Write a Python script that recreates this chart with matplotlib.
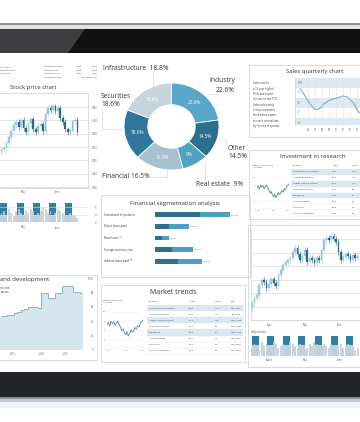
import math
import matplotlib.pyplot as plt
from matplotlib.patches import Rectangle, Polygon

W, H = 360, 422

# ---------------- data ----------------
stock_close = [3960, 3990, 4080, 4180, 4300, 4420, 4470, 4380, 4500, 4350, 4290, 4450,
               4520, 4330, 4280, 4400, 4430, 4300, 4620, 4740, 4700, 4760, 4680, 4730,
               4550, 4470, 4330, 4290, 4300, 4480, 4500, 4290]
stock_open0 = 3900
stock_vol = [5, 6, 4, 7, 5, 3, 6, 7, 5, 4, 6, 5, 7, 6, 4, 5, 6, 8, 7, 5, 6, 4, 5, 7,
             6, 5, 4, 3, 5, 4, 3, 2]
stock_weeks = [0.8, 7.7, 14.3, 20.8, 27.4]
stock_ticks = [4750, 4500, 4250, 4000, 3750, 3500, 3250]
stock_months = ['May', 'June']
stock_month_pos = [8.8, 22.6]
vol_ticks = [8, 4, 0]

intro_lines = ['on 2.63%', 'close for each', 'ast three']
pe_labels = ['Trading P/E ratio', 'P/E estimate', 'Dividend yield', 'Current division']
pe_a = ['12.06', '13.98', '3.46', '']
pe_b = ['76.52', '12.28', '2.86', '0.1123191125']

donut_labels = ['Industry', 'Other', 'Real estate', 'Financial', 'Securities', 'Infrastructure']
donut_values = [22.6, 14.5, 9, 16.5, 18.6, 18.8]
donut_colors = ['#5aa6c6', '#2b6f8f', '#52a0c2', '#a7c1cf', '#2f769b', '#c5d4dd']

seg_labels = ['Investment in products', 'Direct taxes paid', 'Bank loans *',
              'Foreign currency rate', 'Indirect taxes paid **']
seg_dark = [237200, 73800, 36900, 89600, 121200]
seg_light = [158100, 105400, 36900, 110700, 126500]

sales_text = ['Sales rate hit', 'a 10-year high of', '9.5% and expect', 'the rate to top 11%',
              'Sales split evenly', 'across customers', 'the balance expect',
              'to reach normal rate', 'by the end of quarter.']
sales_q = [-1.1, -0.6, -0.1, 0.4, 0.9, 1.3, 1.8, 2.2, 2.7, 3.1, 3.6, 4.1, 4.6, 5.0,
           5.6, 6.1, 6.6, 7.0, 7.4, 7.8]
sales_rate = [9.4, 8.9, 8.3, 7.8, 7.4, 7.35, 7.5, 7.9, 8.1, 8.3, 8.4, 8.5, 8.6, 8.7,
              8.6, 8.3, 7.9, 7.3, 7.0, 6.8]
sales_xlabels = ['06', '07', '08', '09', '10', '11', '12', '13']
sales_yticks = [10, 9, 8, 7, 6]
sales_ylabels = ['10%', '9', '8', '7', '6']

rd_lines = ['rch and', 'penses.']
rd_values = [48, 48, 50, 50, 52, 54, 57, 58, 61, 61, 60, 59, 80, 80, 73, 73, 80, 80,
             90, 90, 90, 82, 82, 80]
rd_years = ['2013', '2014', '2015']
rd_year_pos = [3.3, 11.6, 18.6]
rd_ticks = [100, 80, 60, 40, 20, 0]
rd_tick_labels = ['$100', '80', '60', '40', '20', '0']

share_price = [80, 86, 74, 90, 82, 88, 76, 84, 90, 80, 72, 60, 66, 52, 46, 56, 42, 50,
               62, 54, 58, 70, 64, 76, 72, 84, 88, 94]
share_years = ['2011', '2012', '2013']
share_year_pos = [1.5, 14.5, 26.3]
share_ticks = [120, 90, 60, 30, 0]

research_items = ['New product development', 'Upcoming Exhibition', 'Human resource training',
                  'Professional services', 'Outsourcing', 'New Technology', 'Force code',
                  'Return on investment']
research_target = ['2020', '2016', '2015', '2014', '2012', '2020', '2010', '2009']
research_value = ['131.4', '14.5', '14.6', '9.8', '9.1', '7.8', '7.8', '6.4']
research_date = ['Feb. 2007', 'Jan. 2008', 'May. 2006', 'Sept. 1999', 'May. 2003',
                 'Feb. 2008', 'Feb. 2008', 'Feb. 1999']

br_close = [17, 22, 25, 35, 40, 38, 32, 36, 41, 37, 34, 45, 50, 55, 58, 60, 62, 68, 72,
            66, 60, 64, 70, 58, 62, 60, 57, 62, 60, 70, 80, 82, 80, 84, 81, 78, 68, 60,
            63, 66, 64, 60, 65, 62, 64]
br_open0 = 12
br_vol = [4, 6, 5, 3, 7, 5, 6, 4, 5, 7, 6, 4, 5, 6, 3, 5, 7, 6, 5, 4, 6, 5, 3, 4, 6,
          5, 7, 6, 4, 5, 6, 5, 4, 6, 5, 3, 5, 6, 4, 5, 6, 4, 5, 3, 4]
br_weeks = [1.25, 7.5, 14.4, 20.8, 27.7, 34.4, 40.8]
br_months = ['Apr', 'May', 'June']
br_vmonths = ['April', 'May', 'June']
br_month_pos = [7.1, 22.1, 36.25]
br_grid = [13, 27, 40, 54, 67, 81]

plt.rcParams['font.family'] = ['Open Sans', 'DejaVu Sans']
TXT = '#333333'
GRID = '#d4dbdf'
BOX = '#c9ced1'

fig = plt.figure(figsize=(W / 100, H / 100), dpi=100)
bg = fig.add_axes([0, 0, 1, 1])
bg.set_xlim(0, W)
bg.set_ylim(H, 0)
bg.axis('off')


def sub(x0, y0, x1, y1):
    ax = fig.add_axes([x0 / W, 1 - y1 / H, (x1 - x0) / W, (y1 - y0) / H])
    ax.set_facecolor('none')
    return ax


def t(x, y, s, size, **kw):
    kw.setdefault('color', TXT)
    kw.setdefault('va', 'center')
    bg.text(x, y, s, fontsize=size, **kw)


def box(x0, y0, x1, y1):
    bg.add_patch(Rectangle((x0, y0), x1 - x0, y1 - y0, fill=False, ec=BOX, lw=0.5))


def clean(ax):
    for s in ax.spines.values():
        s.set_visible(False)
    ax.tick_params(length=0, labelsize=1.8, pad=1.2, colors='#555555')


def draw_candles(ax, closes, first_open, wick, up_col, down_col):
    opens = [first_open] + closes[:-1]
    for x, o, c in zip(range(len(closes)), opens, closes):
        lo, hi = min(o, c), max(o, c)
        col = up_col if c >= o else down_col
        ax.vlines(x, lo - wick, hi + wick, color=col, lw=0.4)
        ax.bar(x, max(hi - lo, wick * 0.4), bottom=lo, width=0.72, color=col,
               ec='#6ea8c3' if c >= o else col, lw=0.2)


def draw_volume(ax, vol, weeks, dark_from):
    ax.bar(weeks, [10] * len(weeks), width=2.9, color='#b7d6e5', lw=0)
    ax.bar(weeks, [10 - dark_from] * len(weeks), bottom=dark_from, width=2.9,
           color='#2f7ea3', lw=0)
    ax.bar(range(len(vol)), vol, width=0.8, color='#c3cdd3', alpha=0.85, lw=0)
    ax.set_ylim(0, 10.2)


# ---------------- tablet frame ----------------
bg.add_patch(Rectangle((0, 23), W, 1.6, color='#8e8e8e', lw=0))
bg.add_patch(Rectangle((0, 24.6), W, 4.4, color='#e2e2e2', lw=0))
bg.add_patch(Rectangle((0, 29), W, 24, color='#111112', lw=0))
bg.add_patch(Polygon([(0, 29), (85, 29), (68, 53), (0, 53)], color='#3e3e40', lw=0))
bg.add_patch(Rectangle((0, 372), W, 25, color='#222428', lw=0))
bg.add_patch(Rectangle((0, 397), W, 2, color='#8d9092', lw=0))
bg.add_patch(Rectangle((0, 399), W, 3, color='#c4c7c9', lw=0))
bg.add_patch(Rectangle((0, 402), W, 6, color='#eef2f7', lw=0))

# ---------------- top-left text ----------------
for i, line in enumerate(intro_lines):
    t(0.5, 67 + 3.5 * i, line, 1.7)
for i, lab in enumerate(pe_labels):
    y = 66.5 + 3.6 * i
    t(44, y, lab, 1.7)
    t(82, y, pe_a[i], 1.7, ha='right')
    t(98, y, pe_b[i], 1.7, ha='right')

# ---------------- stock price chart ----------------
t(33, 88, 'Stock price chart', 4.3, ha='center')
ax = sub(0, 93, 88, 188)
draw_candles(ax, stock_close, stock_open0, 55, '#9fcbe0', '#2b6a87')
ax.set_xlim(-0.61, 35.3)
ax.set_ylim(3235, 5012)
clean(ax)
for s in ('top', 'right', 'bottom'):
    ax.spines[s].set_visible(True)
    ax.spines[s].set_color(BOX)
    ax.spines[s].set_linewidth(0.5)
ax.yaxis.tick_right()
ax.set_yticks(stock_ticks, [str(v) for v in stock_ticks])
ax.tick_params(axis='y', pad=2.5)
ax.set_xticks(stock_month_pos, stock_months)
ax.grid(axis='y', color=GRID, lw=0.5)
ax.set_axisbelow(True)

ax = sub(0, 203, 88, 222)
draw_volume(ax, stock_vol, stock_weeks, 4)
ax.set_xlim(-0.61, 35.3)
clean(ax)
ax.yaxis.tick_right()
ax.set_yticks(vol_ticks, [str(v) for v in vol_ticks])
ax.tick_params(axis='y', pad=5)
ax.set_xticks(stock_month_pos, stock_months)
ax.tick_params(axis='x', pad=2.5)
ax.grid(axis='y', color=GRID, lw=0.4)

# ---------------- research and development ----------------
box(-5, 275, 97, 360)
t(0.5, 280, 'and development', 4.3)
for i, line in enumerate(rd_lines):
    t(0.5, 288 + 4 * i, line, 1.8)
ax = sub(0, 279, 83, 350)
ax.bar(range(len(rd_values)), rd_values, width=1.0, color='#d6e6ef', lw=0)
ax.step(range(len(rd_values)), rd_values, where='mid', color='#8aa6b6', lw=0.6)
ax.set_xlim(-0.5, len(rd_values) - 0.5)
ax.set_ylim(0, 100)
clean(ax)
ax.set_yticks([])
for v, lab in zip(rd_ticks, rd_tick_labels):
    ax.text(1.13, v, lab, transform=ax.get_yaxis_transform(), ha='right', va='center',
            fontsize=1.9, color='#555555')
ax.set_xticks(rd_year_pos, rd_years)
ax.tick_params(axis='x', pad=1.5)

# ---------------- donut ----------------
ax = sub(124, 83, 219, 170)
wedges, _ = ax.pie(donut_values, colors=donut_colors, startangle=90, counterclock=False,
                   radius=1.0, wedgeprops=dict(width=0.5, edgecolor='white', linewidth=0.6))
ax.set_aspect('auto')
ax.set_xlim(-1, 1)
ax.set_ylim(-1, 1)
ax.axis('off')
for w, v in zip(wedges, donut_values):
    a = math.radians((w.theta1 + w.theta2) / 2)
    ax.text(0.74 * math.cos(a), 0.74 * math.sin(a), f'{v:g}%', ha='center', va='center',
            fontsize=3.4, color='white')

t(103, 69, 'Infrastructure  18.8%', 4.8)
t(235, 81, 'Industry', 4.8, ha='right')
t(235, 91, '22.6%', 4.8, ha='right')
t(101, 97, 'Securities', 4.8)
t(101, 105, '18.6%', 4.8)
t(228, 148, 'Other', 4.8)
t(228, 157, '14.5%', 4.8)
t(102, 177, 'Financial 16.5%', 4.8)
t(196, 184, 'Real estate  9%', 4.8)
lead = '#d3d6d8'
bg.plot([153, 153], [74, 84], color=lead, lw=0.5)
bg.plot([102, 102, 122], [110, 129, 129], color=lead, lw=0.5)
bg.plot([148, 167, 167], [177, 177, 169], color=lead, lw=0.5)
bg.plot([218, 226, 226], [139, 139, 145], color=lead, lw=0.5)
bg.plot([205, 205], [162, 180], color=lead, lw=0.5)
bg.plot([208, 214], [94, 94], color=lead, lw=0.5)

# ---------------- financial segmentation ----------------
box(101, 195, 250, 277)
t(175, 203, 'Financial segmentation analysis', 4.4, ha='center')
ax = sub(155, 209, 245, 267)
rows = range(len(seg_labels))
ax.barh(rows, seg_dark, height=0.43, color='#2e6e8e', lw=0)
ax.barh(rows, seg_light, left=seg_dark, height=0.43, color='#4c9ec2', lw=0)
for i, (d, l) in enumerate(zip(seg_dark, seg_light)):
    ax.text(d + l + 6000, i, f'{d + l:,}', va='center', fontsize=1.5, color='#444444')
ax.set_xlim(0, 474000)
ax.set_ylim(len(seg_labels) - 0.5, -0.5)
ax.axis('off')
for i, lab in enumerate(seg_labels):
    t(104, 214.8 + 11.6 * i, lab, 2.1)

# ---------------- sales quarterly chart ----------------
box(249, 65, 365, 137)
t(315, 72, 'Sales quarterly chart', 4.3, ha='center')
for i, line in enumerate(sales_text):
    t(253, 83.3 + 5.35 * i, line, 1.9)
ax = sub(295, 78, 370, 125)
for v in sales_yticks[::2]:
    ax.axhspan(v - 0.5, v + 0.5, color='#dce9f0', lw=0)
ax.plot(sales_q, sales_rate, color='#8db4c9', lw=0.9)
ax.set_xlim(-1.857, 8.857)
ax.set_ylim(5.8, 10.5)
clean(ax)
ax.spines['left'].set_visible(True)
ax.spines['left'].set_color(BOX)
ax.spines['left'].set_linewidth(0.5)
ax.set_yticks([])
for v, lab in zip(sales_yticks, sales_ylabels):
    ax.text(-1.45, v, lab, ha='left', va='center', fontsize=1.8, color='#555555')
ax.set_xticks(range(len(sales_xlabels)), sales_xlabels)
ax.tick_params(axis='x', pad=2)
ax.grid(axis='x', color='#d8e2e8', lw=0.4)


def share_chart(x0, y0, x1, y1):
    a = sub(x0, y0, x1, y1)
    a.plot(range(len(share_price)), share_price, color='#3b82a5', lw=0.55)
    a.set_xlim(0, len(share_price) - 1)
    a.set_ylim(0, 120)
    clean(a)
    a.tick_params(labelsize=1.4, pad=0.8)
    a.set_yticks(share_ticks, [str(v) for v in share_ticks])
    a.set_xticks(share_year_pos, share_years)
    a.grid(axis='y', color='#e2e6e8', lw=0.3)
    return a


def table(x0, x1, y_head, dy, cols, columns, headers, shade):
    for j, h in enumerate(headers):
        t(cols[j], y_head, h, 1.5)
    for i in range(len(columns[0])):
        y = y_head + dy * (i + 1)
        if i in shade:
            bg.add_patch(Rectangle((x0, y - dy / 2), x1 - x0, dy, color='#d9e8f0', lw=0))
        bg.plot([x0, x1], [y + dy / 2] * 2, color='#e0e4e6', lw=0.3)
        for j, col in enumerate(columns):
            t(cols[j], y, col[i], 1.5)


# ---------------- investment in research ----------------
box(249, 150, 365, 219)
t(313, 157, 'Investment in research', 4.4, ha='center')
t(253, 166.5, 'Share price by research\ninvestment', 1.4, linespacing=1.2)
share_chart(257, 177, 289, 209)
table(291, 365, 166, 5.9, [293, 332, 352],
      [research_items, research_target, research_value],
      ['Research', 'Target', 'Value'], [0, 2, 4])

# ---------------- market trends ----------------
box(101, 285, 245, 362)
t(173, 292, 'Market trends', 5, ha='center')
t(103, 301.5, 'Share price by research\ninvestment', 1.4, linespacing=1.2)
share_chart(107, 312, 143, 349)
table(147, 243, 302, 6.1, [149, 189, 215, 231],
      [research_items, research_target, research_value, research_date],
      ['Research', 'Target', 'Value', 'Date'], [0, 2, 4])

# ---------------- bottom-right candles ----------------
box(248, 225, 365, 367)
ax = sub(251, 229, 365, 320)
draw_candles(ax, br_close, br_open0, 3, '#9fcbe0', '#2b6a87')
ax.set_xlim(-0.45, 47.1)
ax.set_ylim(0, 91)
clean(ax)
for s in ('left', 'bottom'):
    ax.spines[s].set_visible(True)
    ax.spines[s].set_color(BOX)
    ax.spines[s].set_linewidth(0.5)
ax.set_yticks(br_grid, [''] * len(br_grid))
ax.set_xticks(br_month_pos, br_months)
ax.tick_params(axis='x', pad=2)
ax.grid(axis='y', color=GRID, lw=0.5)
ax.set_axisbelow(True)

t(251, 332, 'daily volume', 1.8)
ax = sub(251, 336, 365, 356)
draw_volume(ax, br_vol, br_weeks, 5.5)
ax.set_xlim(-0.45, 47.1)
clean(ax)
ax.set_yticks([])
ax.set_xticks(br_month_pos, br_vmonths)

fig.savefig('out.png', dpi=100)
